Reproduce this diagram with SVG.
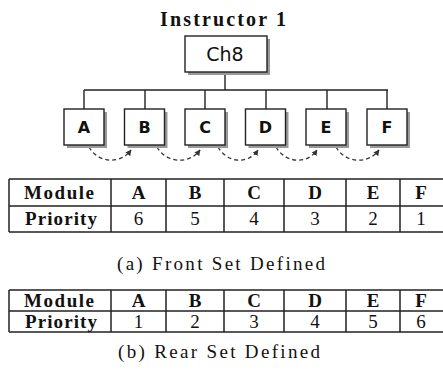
<svg xmlns="http://www.w3.org/2000/svg" width="443" height="378" viewBox="0 0 443 378">
  <style>
    .title { font-family: "Liberation Serif", serif; font-weight: bold; font-size: 20px; fill: #111; }
    .box { fill: #fff; stroke: #222; stroke-width: 1.4; }
    .shadow { fill: #9a9a9a; }
    .root-label { font-family: "DejaVu Sans", sans-serif; font-size: 19px; fill: #111; text-anchor: middle; }
    .node-label { font-family: "DejaVu Sans", sans-serif; font-weight: bold; font-size: 16px; fill: #111; text-anchor: middle; }
    .tree { fill: none; stroke: #222; stroke-width: 1.4; }
    .dep { fill: none; stroke: #333; stroke-width: 1.3; stroke-dasharray: 4 3; }
    .grid { fill: none; stroke: #222; stroke-width: 1.5; }
    .hdr { font-family: "Liberation Serif", serif; font-weight: bold; font-size: 19px; fill: #111; }
    .cellb { font-family: "Liberation Serif", serif; font-weight: bold; font-size: 19px; fill: #111; text-anchor: middle; }
    .cell { font-family: "Liberation Serif", serif; font-size: 19px; fill: #111; text-anchor: middle; }
    .caption { font-family: "Liberation Serif", serif; font-size: 19px; fill: #111; }
  </style>
  <defs>
    <marker id="arrow" viewBox="0 0 10 10" refX="9" refY="5" markerWidth="6" markerHeight="6" orient="auto" markerUnits="userSpaceOnUse">
      <path d="M0,0 L10,5 L0,10 Z" fill="#333"/>
    </marker>
  </defs>

  <text class="title" x="160" y="26" textLength="126" lengthAdjust="spacing">Instructor 1</text>

  <!-- tree connectors and dependency arcs -->
  <g id="connectors">
    <path class="tree" d="M225,72 V90 M84,90 H388 M84,90 V109 M145,90 V109 M205,90 V109 M266,90 V109 M327,90 V109 M387,90 V109"/>
    <path class="dep" d="M89,147 C98,163 120,165 131,150" marker-end="url(#arrow)"/>
    <path class="dep" d="M157,147 C166,163 189,165 200,150" marker-end="url(#arrow)"/>
    <path class="dep" d="M218,147 C227,163 248,165 258,150" marker-end="url(#arrow)"/>
    <path class="dep" d="M276,147 C285,163 307,165 317,150" marker-end="url(#arrow)"/>
    <path class="dep" d="M336,147 C345,163 368,165 379,150" marker-end="url(#arrow)"/>
  </g>

  <g id="ch8">
    <rect class="shadow" x="188" y="39" width="82" height="36"/>
    <rect class="box" x="185" y="36" width="82" height="36"/>
    <text class="root-label" x="225" y="61">Ch8</text>
  </g>

  <g id="node-a">
    <rect class="shadow" x="67" y="112" width="40" height="36"/>
    <rect class="box" x="64" y="109" width="40" height="36"/>
    <text class="node-label" x="84" y="133">A</text>
  </g>
  <g id="node-b">
    <rect class="shadow" x="127.5" y="112" width="40" height="36"/>
    <rect class="box" x="124.5" y="109" width="40" height="36"/>
    <text class="node-label" x="144.5" y="133">B</text>
  </g>
  <g id="node-c">
    <rect class="shadow" x="188" y="112" width="40" height="36"/>
    <rect class="box" x="185" y="109" width="40" height="36"/>
    <text class="node-label" x="205" y="133">C</text>
  </g>
  <g id="node-d">
    <rect class="shadow" x="248.5" y="112" width="40" height="36"/>
    <rect class="box" x="245.5" y="109" width="40" height="36"/>
    <text class="node-label" x="265.5" y="133">D</text>
  </g>
  <g id="node-e">
    <rect class="shadow" x="309" y="112" width="40" height="36"/>
    <rect class="box" x="306" y="109" width="40" height="36"/>
    <text class="node-label" x="326" y="133">E</text>
  </g>
  <g id="node-f">
    <rect class="shadow" x="370" y="112" width="40" height="36"/>
    <rect class="box" x="367" y="109" width="40" height="36"/>
    <text class="node-label" x="387" y="133">F</text>
  </g>

  <!-- (a) front set table -->
  <g id="table-front">
    <path class="grid" d="M9,179 H450 M9,206 H450 M9,232 H450 M9,179 V232 M111,179 V232 M166,179 V232 M224,179 V232 M284,179 V232 M346,179 V232 M400,179 V232"/>
    <text class="hdr" x="24" y="199" textLength="70" lengthAdjust="spacing">Module</text>
    <text class="hdr" x="25" y="225" textLength="72" lengthAdjust="spacing">Priority</text>
    <text class="cellb" x="138.5" y="199">A</text>
    <text class="cellb" x="195" y="199">B</text>
    <text class="cellb" x="254" y="199">C</text>
    <text class="cellb" x="315" y="199">D</text>
    <text class="cellb" x="373" y="199">E</text>
    <text class="cellb" x="421" y="199">F</text>
    <text class="cell" x="138.5" y="225">6</text>
    <text class="cell" x="195" y="225">5</text>
    <text class="cell" x="254" y="225">4</text>
    <text class="cell" x="315" y="225">3</text>
    <text class="cell" x="373" y="225">2</text>
    <text class="cell" x="421" y="225">1</text>
  </g>
  <text class="caption" x="117" y="270" textLength="208" lengthAdjust="spacing">(a)  Front Set Defined</text>

  <!-- (b) rear set table -->
  <g id="table-rear">
    <path class="grid" d="M9,290 H450 M9,311 H450 M9,332 H450 M9,290 V332 M111,290 V332 M166,290 V332 M224,290 V332 M284,290 V332 M346,290 V332 M400,290 V332"/>
    <text class="hdr" x="24" y="307" textLength="70" lengthAdjust="spacing">Module</text>
    <text class="hdr" x="25" y="328" textLength="72" lengthAdjust="spacing">Priority</text>
    <text class="cellb" x="138.5" y="307">A</text>
    <text class="cellb" x="195" y="307">B</text>
    <text class="cellb" x="254" y="307">C</text>
    <text class="cellb" x="315" y="307">D</text>
    <text class="cellb" x="373" y="307">E</text>
    <text class="cellb" x="421" y="307">F</text>
    <text class="cell" x="138.5" y="328">1</text>
    <text class="cell" x="195" y="328">2</text>
    <text class="cell" x="254" y="328">3</text>
    <text class="cell" x="315" y="328">4</text>
    <text class="cell" x="373" y="328">5</text>
    <text class="cell" x="421" y="328">6</text>
  </g>
  <text class="caption" x="118" y="358" textLength="202" lengthAdjust="spacing">(b)  Rear Set Defined</text>
</svg>
